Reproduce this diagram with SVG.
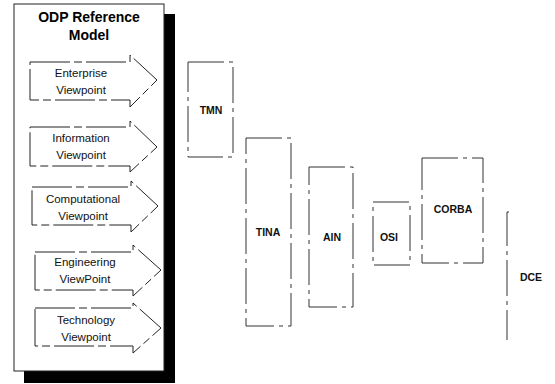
<svg xmlns="http://www.w3.org/2000/svg" width="555" height="384" viewBox="0 0 555 384">
<style>
.t{font-family:"Liberation Sans",Arial,sans-serif;font-size:11.5px;fill:#111;text-anchor:middle}
.r{font-family:"Liberation Sans",Arial,sans-serif;font-size:10.5px;font-weight:bold;fill:#111;text-anchor:middle}
.b{font-family:"Liberation Sans",Arial,sans-serif;font-size:14px;font-weight:bold;fill:#000;text-anchor:middle}
.v{fill:#fff;stroke:#222;stroke-width:1;stroke-dasharray:40 4 8 4}
.s{fill:none;stroke:#333;stroke-width:1;stroke-dasharray:36 5 4 5}
</style>
<rect width="555" height="384" fill="#fff"/>
<g id="odp-model">
<rect x="24" y="14" width="151" height="369" fill="#000"/>
<rect x="14" y="4" width="150" height="367" fill="#fff" stroke="#222" stroke-width="1"/>
<text class="b" x="89" y="22">ODP Reference</text>
<text class="b" x="89" y="40">Model</text>
</g>
<g id="enterprise">
<path class="v" d="M30 62H130V55L157 80L130 107V100H30Z"/>
<text class="t" x="81" y="77">Enterprise</text>
<text class="t" x="81" y="94">Viewpoint</text>
</g>
<g id="information">
<path class="v" d="M30 127H130V121L157 147L130 172V166H30Z"/>
<text class="t" x="81" y="142">Information</text>
<text class="t" x="81" y="159">Viewpoint</text>
</g>
<g id="computational">
<path class="v" d="M32 187H131V181L158 206L131 232V225H32Z"/>
<text class="t" x="83" y="203">Computational</text>
<text class="t" x="83" y="220">Viewpoint</text>
</g>
<g id="engineering">
<path class="v" d="M35 252H133V245L161 270L133 296V290H35Z"/>
<text class="t" x="85" y="266">Engineering</text>
<text class="t" x="85" y="283">ViewPoint</text>
</g>
<g id="technology">
<path class="v" d="M35 308H133V303L161 328L133 353V346H35Z"/>
<text class="t" x="86" y="324">Technology</text>
<text class="t" x="86" y="341">Viewpoint</text>
</g>
<g id="tmn">
<rect class="s" x="188" y="62" width="45" height="95"/>
<text class="r" x="211" y="114">TMN</text>
</g>
<g id="tina">
<rect class="s" x="246" y="138" width="45" height="188"/>
<text class="r" x="268" y="236">TINA</text>
</g>
<g id="ain">
<rect class="s" x="309" y="167" width="44" height="140"/>
<text class="r" x="332" y="241">AIN</text>
</g>
<g id="osi">
<rect class="s" x="373" y="202" width="37" height="63"/>
<text class="r" x="389" y="241">OSI</text>
</g>
<g id="corba">
<rect class="s" x="422" y="158" width="61" height="105"/>
<text class="r" x="453" y="213">CORBA</text>
</g>
<g id="dce">
<path class="s" d="M509 212H507V340"/>
<text class="r" x="531" y="281">DCE</text>
</g>
<g id="connectors"></g>
</svg>
